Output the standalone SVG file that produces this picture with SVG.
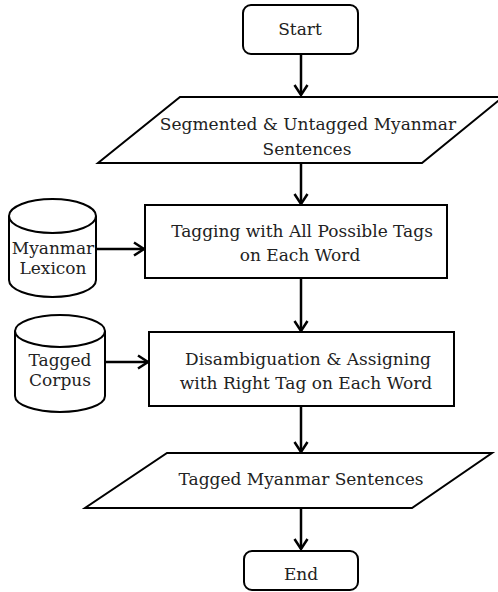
<svg xmlns="http://www.w3.org/2000/svg" width="498" height="592" viewBox="0 0 498 592">
<style>
.shape{fill:#fff;stroke:#000;stroke-width:2}
.edge{fill:none;stroke:#000;stroke-width:2.5}
text{font-family:"DejaVu Serif","Liberation Serif",serif;font-size:17px;fill:#222;text-anchor:middle}
</style>
<defs>
<marker id="ah" markerUnits="userSpaceOnUse" markerWidth="20" markerHeight="20" viewBox="-12 -10 14 20" refX="0" refY="0" orient="auto">
<path d="M-10,-6.5 L0,0 L-10,6.5" fill="none" stroke="#000" stroke-width="2.5"/>
</marker>
</defs>
<rect width="498" height="592" fill="#fff"/>
<g id="connectors">
<line class="edge" x1="301" y1="54" x2="301" y2="95" marker-end="url(#ah)"/>
<line class="edge" x1="301" y1="163" x2="301" y2="204" marker-end="url(#ah)"/>
<line class="edge" x1="301" y1="278" x2="301" y2="331" marker-end="url(#ah)"/>
<line class="edge" x1="301" y1="406" x2="301" y2="452" marker-end="url(#ah)"/>
<line class="edge" x1="301" y1="508" x2="301" y2="549" marker-end="url(#ah)"/>
<line class="edge" x1="96" y1="249" x2="144" y2="249" marker-end="url(#ah)"/>
<line class="edge" x1="105" y1="362" x2="148" y2="362" marker-end="url(#ah)"/>
</g>
<g id="start">
<rect class="shape" x="243" y="5" width="115" height="49" rx="8"/>
<text x="300" y="35">Start</text>
</g>
<g id="input">
<polygon class="shape" points="180,97 503,97 422,163 98,163"/>
<text x="308" y="130">Segmented &amp; Untagged Myanmar</text>
<text x="307" y="155">Sentences</text>
</g>
<g id="tagging">
<rect class="shape" x="145" y="205" width="302" height="73"/>
<text x="302" y="237">Tagging with All Possible Tags</text>
<text x="300" y="261">on Each Word</text>
</g>
<g id="lexicon">
<path class="shape" d="M9,216 A43.5,17 0 0 1 96,216 L96,280 A43.5,17 0 0 1 9,280 Z"/>
<path class="shape" d="M9,216 A43.5,17 0 0 0 96,216" fill="none"/>
<text x="53" y="254">Myanmar</text>
<text x="53" y="274">Lexicon</text>
</g>
<g id="disambiguation">
<rect class="shape" x="149" y="332" width="305" height="74"/>
<text x="308" y="365">Disambiguation &amp; Assigning</text>
<text x="306" y="389">with Right Tag on Each Word</text>
</g>
<g id="corpus">
<path class="shape" d="M15,331 A45,16 0 0 1 105,331 L105,396 A45,16 0 0 1 15,396 Z"/>
<path class="shape" d="M15,331 A45,16 0 0 0 105,331" fill="none"/>
<text x="60" y="366">Tagged</text>
<text x="60" y="386">Corpus</text>
</g>
<g id="output">
<polygon class="shape" points="167,453 492,453 412,508 85,508"/>
<text x="301" y="485">Tagged Myanmar Sentences</text>
</g>
<g id="end">
<rect class="shape" x="244" y="551" width="114" height="39" rx="8"/>
<text x="301" y="580">End</text>
</g>
</svg>
